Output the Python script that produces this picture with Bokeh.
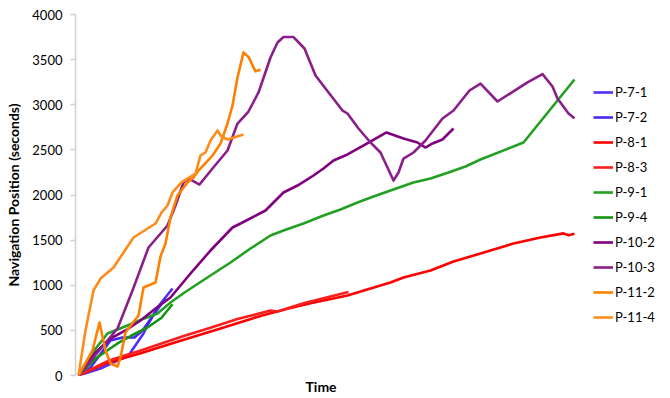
from bokeh.plotting import figure
from bokeh.models import Legend, LegendItem, FixedTicker, Range1d, Title
from bokeh.embed import file_html
from bokeh.resources import INLINE

# Elapsed time (arbitrary units) and navigation position (seconds) per participant session
p7_1_t = [0, 22, 50, 65, 70, 79, 94]
p7_1_v = [0, 78, 222, 465, 576, 753, 964]

p7_2_t = [0, 12, 32, 44, 56, 64, 76, 87]
p7_2_v = [0, 89, 388, 421, 421, 499, 687, 853]

p8_1_t = [0, 29, 63, 102, 142, 182, 192, 209, 232, 269, 292, 312, 325, 352, 375, 402, 435, 462, 485, 490, 496]
p8_1_v = [0, 140, 250, 385, 520, 660, 690, 740, 800, 886, 964, 1030, 1086, 1163, 1263, 1352, 1463, 1529, 1575, 1555, 1570]

p8_3_t = [0, 29, 63, 106, 132, 159, 192, 199, 225, 270]
p8_3_v = [0, 160, 280, 440, 530, 625, 720, 710, 800, 925]

p9_1_t = [0, 14, 29, 49, 63, 79, 92, 106, 132, 152, 172, 192, 205, 225, 245, 262, 279, 295, 312, 335, 352, 370, 387, 402, 445, 496]
p9_1_v = [0, 255, 465, 554, 620, 687, 809, 920, 1108, 1252, 1407, 1551, 1607, 1684, 1773, 1839, 1917, 1983, 2050, 2139, 2183, 2249, 2316, 2393, 2582, 3280]

p9_4_t = [0, 17, 39, 53, 69, 83, 94]
p9_4_v = [0, 188, 355, 443, 532, 640, 790]

p10_2_t = [0, 17, 32, 47, 62, 77, 92, 112, 132, 154, 164, 187, 205, 219, 235, 245, 255, 269, 287, 308, 325, 339, 347, 354, 364, 375]
p10_2_v = [0, 255, 410, 499, 609, 742, 864, 1130, 1385, 1640, 1695, 1828, 2028, 2105, 2216, 2293, 2382, 2449, 2560, 2693, 2626, 2582, 2526, 2571, 2615, 2737]

p10_3_t = [0, 19, 39, 54, 70, 89, 97, 105, 110, 121, 134, 149, 159, 170, 180, 192, 199, 205, 215, 226, 237, 247, 264, 269, 280, 292, 302, 315, 320, 325, 335, 347, 364, 375, 391, 402, 419, 449, 464, 474, 479, 490, 496]
p10_3_v = [0, 255, 521, 942, 1418, 1662, 1884, 2139, 2183, 2116, 2294, 2493, 2792, 2925, 3136, 3524, 3690, 3750, 3750, 3623, 3324, 3180, 2936, 2903, 2737, 2582, 2471, 2160, 2249, 2404, 2471, 2604, 2848, 2936, 3158, 3235, 3036, 3247, 3340, 3202, 3069, 2903, 2850]

p11_2_t = [0, 14, 21, 27, 32, 39, 42, 47, 53, 60, 65, 77, 82, 87, 92, 99, 109, 115, 120, 134, 142, 149, 154, 159, 165, 170, 177, 182]
p11_2_v = [0, 277, 587, 277, 133, 100, 199, 477, 565, 665, 975, 1030, 1319, 1463, 1751, 1995, 2139, 2194, 2271, 2437, 2570, 2792, 2992, 3302, 3580, 3530, 3370, 3390]

p11_4_t = [0, 7, 15, 22, 35, 55, 77, 83, 89, 94, 103, 117, 122, 127, 132, 139, 142, 149, 165]
p11_4_v = [0, 499, 942, 1074, 1196, 1529, 1684, 1806, 1884, 2028, 2139, 2238, 2438, 2471, 2604, 2715, 2659, 2615, 2670]

names = ["P-7-1", "P-7-2", "P-8-1", "P-8-3", "P-9-1", "P-9-4", "P-10-2", "P-10-3", "P-11-2", "P-11-4"]
times = [p7_1_t, p7_2_t, p8_1_t, p8_3_t, p9_1_t, p9_4_t, p10_2_t, p10_3_t, p11_2_t, p11_4_t]
values = [p7_1_v, p7_2_v, p8_1_v, p8_3_v, p9_1_v, p9_4_v, p10_2_v, p10_3_v, p11_2_v, p11_4_v]
colors = ["#5030F8", "#4A28F0", "#FF0000", "#FA1E1E", "#22A022", "#139413",
          "#800080", "#8A1F8A", "#FF8000", "#FF8C1A"]

y_ticks = [0, 500, 1000, 1500, 2000, 2500, 3000, 3500, 4000]

FONT = "Lato"

# the frame runs to the right edge so the legend can sit inside it, right of the lines
p = figure(width=670, height=398, output_backend="svg", toolbar_location=None,
           x_range=Range1d(-3, 592), y_range=Range1d(0, 4000),
           x_axis_location=None,
           min_border_left=75, min_border_right=0, min_border_top=14, min_border_bottom=23)

p.grid.visible = False
p.outline_line_color = None

# y axis
yax = p.yaxis[0]
yax.ticker = FixedTicker(ticks=y_ticks)
yax.axis_line_color = "#D0D0D0"
yax.axis_line_width = 1.5
yax.major_tick_line_color = "#D0D0D0"
yax.major_tick_line_width = 1.5
yax.major_tick_out = 5
yax.major_tick_in = 0
yax.minor_tick_line_color = None
yax.major_label_standoff = 8
yax.major_label_text_font = FONT
yax.major_label_text_font_size = "13px"
yax.major_label_text_color = "#000000"
yax.axis_label = "Navigation Position (seconds)"
yax.axis_label_text_font = FONT
yax.axis_label_text_font_size = "14px"
yax.axis_label_text_font_style = "bold"
yax.axis_label_text_color = "#000000"
yax.axis_label_standoff = 7

# horizontal axis title, centred under the lines rather than the whole frame
p.add_layout(Title(text="Time", align="left", offset=230, standoff=0,
                   text_font=FONT, text_font_size="14px", text_font_style="bold",
                   text_color="#000000"), "below")

items = []
for name, t, v, c in zip(names, times, values, colors):
    r = p.line(t, v, line_color=c, line_width=2.6, line_join="round")
    items.append(LegendItem(label=name, renderers=[r]))

legend = Legend(items=items, location=(518, 48), orientation="vertical",
                glyph_width=20, glyph_height=20, label_height=20, spacing=5,
                label_standoff=2, padding=0, margin=0,
                label_text_font=FONT, label_text_font_size="13px",
                label_text_color="#000000",
                border_line_color=None, background_fill_alpha=0)
p.add_layout(legend, "center")

open("out.html", "w").write(file_html(p, INLINE))
